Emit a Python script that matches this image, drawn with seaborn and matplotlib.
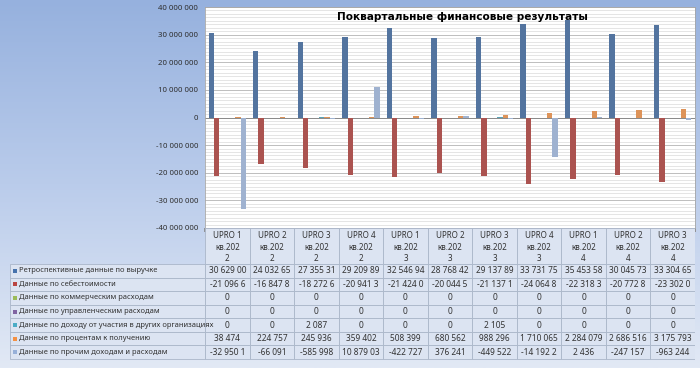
import numpy as np
import pandas as pd
import matplotlib
matplotlib.use('Agg')
import matplotlib.pyplot as plt
import seaborn as sns
from matplotlib.patches import Rectangle
from matplotlib.ticker import MultipleLocator, FuncFormatter
from matplotlib.colors import LinearSegmentedColormap

# Периоды (подписи категорий как в таблице данных)
periods = [
    "UPRO 1\nкв.202\n2", "UPRO 2\nкв.202\n2", "UPRO 3\nкв.202\n2", "UPRO 4\nкв.202\n2",
    "UPRO 1\nкв.202\n3", "UPRO 2\nкв.202\n3", "UPRO 3\nкв.202\n3", "UPRO 4\nкв.202\n3",
    "UPRO 1\nкв.202\n4", "UPRO 2\nкв.202\n4", "UPRO 3\nкв.202\n4",
]
series_names = [
    "Ретроспективные данные по выручке",
    "Данные по себестоимости",
    "Данные по коммерческим расходам",
    "Данные по управленческим расходам",
    "Данные по доходу от участия в других организациях",
    "Данные по процентам к получению",
    "Данные по прочим доходам и расходам",
]
revenue = [30629000, 24032650, 27355310, 29209890, 32546940, 28768420,
           29137890, 33731750, 35453580, 30045730, 33304650]
cost = [-21096600, -16847800, -18272600, -20941300, -21424000, -20044500,
        -21137100, -24064800, -22318300, -20772800, -23302000]
commercial = [0, 0, 0, 0, 0, 0, 0, 0, 0, 0, 0]
admin = [0, 0, 0, 0, 0, 0, 0, 0, 0, 0, 0]
participation = [0, 0, 2087, 0, 0, 0, 2105, 0, 0, 0, 0]
interest = [38474, 224757, 245936, 359402, 508399, 680562,
            988296, 1710065, 2284079, 2686516, 3175793]
other = [-32950100, -66091, -585998, 10879030, -422727, 376241,
         -449522, -14192200, 2436, -247157, -963244]
colors = ['#4672AC', '#BA4541', '#9BBB59', '#8064A2', '#4BACC6', '#F39043', '#97B0D8']
title = "Поквартальные финансовые результаты"

sns.set_theme(style='white')
plt.rcParams['font.family'] = ['Noto Sans', 'DejaVu Sans']

values = [revenue, cost, commercial, admin, participation, interest, other]
rows = []
for name, vals in zip(series_names, values):
    for p, v in zip(periods, vals):
        rows.append({'period': p, 'series': name, 'value': v})
df = pd.DataFrame(rows)

W, H = 700, 368
fig = plt.figure(figsize=(7, 3.68), dpi=100)

# фон с градиентом
bg = fig.add_axes([0, 0, 1, 1], zorder=-10)
cmap = LinearSegmentedColormap.from_list('bg', ['#96B1DE', '#BACCEB', '#E2E9F5'])
bg.imshow(np.linspace(0, 1, 256).reshape(-1, 1), aspect='auto', cmap=cmap, extent=[0, 1, 0, 1])
bg.axis('off')

# основная диаграмма
ax = fig.add_axes([205 / W, 1 - 228 / H, 490 / W, 221 / H])
ax.set_facecolor('white')
sns.barplot(data=df, x='period', y='value', hue='series', order=periods,
            hue_order=series_names, palette=colors, width=0.84, errorbar=None,
            legend=False, linewidth=0, ax=ax)
ax.set_xlim(-0.5, 10.5)
ax.set_ylim(-40e6, 40e6)
ax.yaxis.set_major_locator(MultipleLocator(10e6))
ax.yaxis.set_minor_locator(MultipleLocator(1.25e6))
ax.yaxis.set_major_formatter(FuncFormatter(lambda v, _: f"{int(round(v)):,}".replace(',', ' ')))
ax.grid(which='major', axis='y', color='#BDBDBD', lw=0.7)
ax.grid(which='minor', axis='y', color='#E0E0E0', lw=0.6)
ax.set_axisbelow(True)
ax.axhline(0, color='#8A8A8A', lw=0.7, zorder=0.8)
ax.set_xticks(np.arange(-0.5, 11, 1))
ax.set_xticklabels([])
ax.tick_params(axis='x', which='major', direction='out', length=3, color='#8A8A8A', bottom=True)
ax.tick_params(axis='y', which='both', length=0, pad=5, labelsize=5.6, colors='#2E2E2E')
ax.set_xlabel('')
ax.set_ylabel('')
for s in ax.spines.values():
    s.set_color('#A6A6A6')
    s.set_linewidth(0.6)
ax.text(0.525, 0.955, title, transform=ax.transAxes, ha='center', va='center',
        fontsize=7.6, fontweight='bold', family=['DejaVu Sans'], color='black')

# таблица данных
col_w = 490 / 11
x0 = -0.5 - 195 / col_w
tax = fig.add_axes([10 / W, 1 - 360 / H, 685 / W, 132 / H])
tax.set_xlim(x0, 10.5)
tax.set_ylim(132, 0)
tax.axis('off')
cell_fc = '#DCE4F2'
cell_ec = '#AAB6C9'
hh = 36
rh = 95 / 7

def fmt(v):
    return f"{v:,}".replace(',', ' ')[:9]

for i, p in enumerate(periods):
    tax.add_patch(Rectangle((i - 0.5, 0), 1, hh, fc=cell_fc, ec=cell_ec, lw=0.6))
    tax.text(i, hh / 2 + 1, p, ha='center', va='center', fontsize=5.8,
             linespacing=1.35, color='#333333')

for r, (name, vals) in enumerate(zip(series_names, values)):
    yt = hh + r * rh
    lab = Rectangle((x0, yt), -0.5 - x0, rh, fc=cell_fc, ec=cell_ec, lw=0.6)
    tax.add_patch(lab)
    tax.scatter([x0 + 5 / col_w], [yt + rh / 2], marker='s', s=5, color=colors[r], linewidths=0)
    t = tax.text(x0 + 9 / col_w, yt + rh / 2, name, ha='left', va='center',
                 fontsize=5.4, color='#333333')
    t.set_clip_path(lab)
    for i, v in enumerate(vals):
        tax.add_patch(Rectangle((i - 0.5, yt), 1, rh, fc=cell_fc, ec=cell_ec, lw=0.6))
        tax.text(i, yt + rh / 2, fmt(v), ha='center', va='center', fontsize=6.0,
                 color='#333333')

fig.savefig('out.png', dpi=100)
